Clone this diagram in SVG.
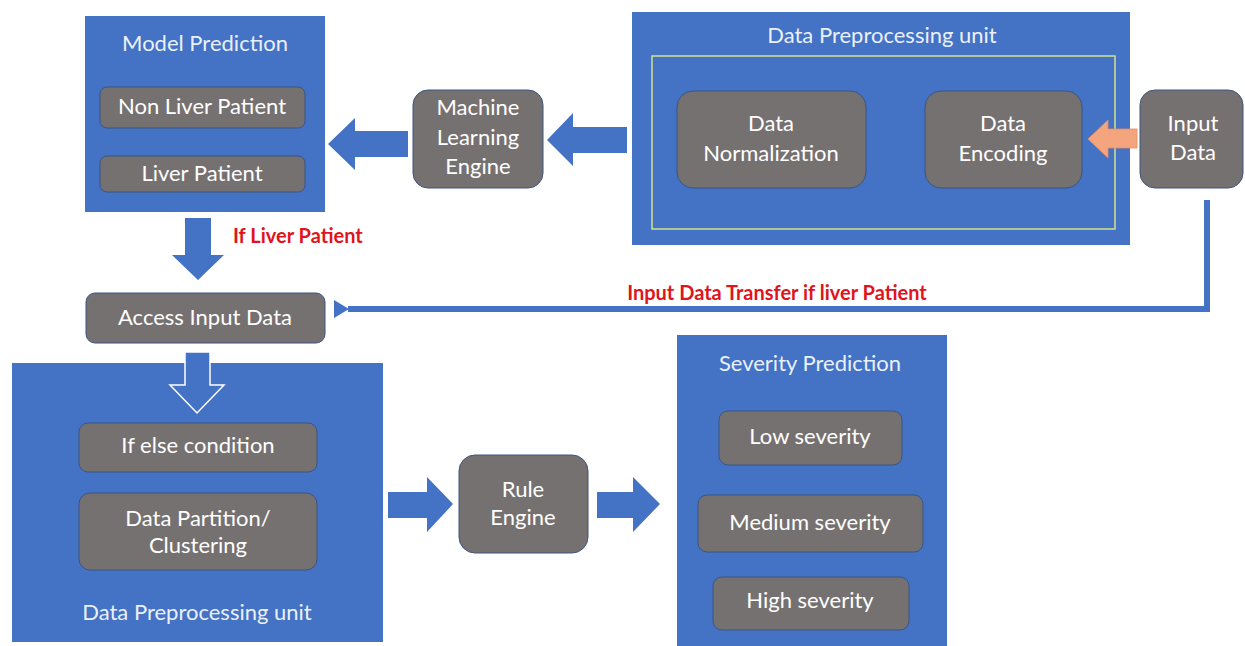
<svg xmlns="http://www.w3.org/2000/svg" width="1245" height="646" viewBox="0 0 1245 646">
<style>
.panel{fill:#4472c4;}
.box{fill:#767171;stroke:#3b5580;stroke-width:1;}
.title{font-family:Lato,"Liberation Sans",sans-serif;font-size:22px;fill:#eaf0fa;text-anchor:middle;}
.lbl{font-family:Lato,"Liberation Sans",sans-serif;font-size:22px;fill:#ffffff;text-anchor:middle;}
.red{font-family:Lato,"Liberation Sans",sans-serif;font-size:20px;font-weight:bold;fill:#e0141c;}
.arrow{fill:#4472c4;}
</style>
<defs>
<marker id="ah" markerUnits="userSpaceOnUse" markerWidth="16" markerHeight="20" refX="2" refY="10" orient="auto">
<path d="M16,1 L1,10 L16,19 Z" fill="#4472c4"/>
</marker>
</defs>

<g id="model-prediction">
<rect class="panel" x="85" y="16" width="240" height="196"/>
<text class="title" x="205" y="51">Model Prediction</text>
<rect class="box" x="100" y="87" width="205" height="41" rx="7"/>
<text class="lbl" x="202" y="114">Non Liver Patient</text>
<rect class="box" x="100" y="156" width="205" height="36" rx="7"/>
<text class="lbl" x="202" y="181">Liver Patient</text>
</g>

<g id="ml-engine">
<rect class="box" x="413" y="90" width="130" height="98" rx="15"/>
<text class="lbl" x="478" y="115">Machine</text>
<text class="lbl" x="478" y="145">Learning</text>
<text class="lbl" x="478" y="174">Engine</text>
</g>

<g id="data-preprocessing-top">
<rect class="panel" x="632" y="12" width="498" height="233"/>
<text class="title" x="882" y="43">Data Preprocessing unit</text>
<rect x="652" y="56" width="463" height="173" fill="none" stroke="#d2e08c" stroke-width="1.5"/>
<g id="data-normalization">
<rect class="box" x="677" y="91" width="189" height="97" rx="16"/>
<text class="lbl" x="771" y="131">Data</text>
<text class="lbl" x="771" y="161">Normalization</text>
</g>
<g id="data-encoding">
<rect class="box" x="925" y="91" width="157" height="97" rx="16"/>
<text class="lbl" x="1003" y="131">Data</text>
<text class="lbl" x="1003" y="161">Encoding</text>
</g>
</g>

<g id="input-data">
<rect class="box" x="1140" y="90" width="103" height="98" rx="15"/>
<text class="lbl" x="1193" y="131">Input</text>
<text class="lbl" x="1193" y="160">Data</text>
</g>

<g id="access-input-data">
<rect class="box" x="86" y="293" width="239" height="50" rx="9"/>
<text class="lbl" x="205" y="325">Access Input Data</text>
</g>

<g id="data-preprocessing-bottom">
<rect class="panel" x="12" y="363" width="371" height="279"/>
<text class="title" x="197" y="620">Data Preprocessing unit</text>
<g id="if-else">
<rect class="box" x="79" y="423" width="238" height="49" rx="9"/>
<text class="lbl" x="198" y="453">If else condition</text>
</g>
<g id="data-partition">
<rect class="box" x="79" y="493" width="238" height="77" rx="11"/>
<text class="lbl" x="198" y="526">Data Partition/</text>
<text class="lbl" x="198" y="553">Clustering</text>
</g>
</g>

<g id="rule-engine">
<rect class="box" x="459" y="455" width="129" height="98" rx="16"/>
<text class="lbl" x="523" y="497">Rule</text>
<text class="lbl" x="523" y="525">Engine</text>
</g>

<g id="severity-prediction">
<rect class="panel" x="677" y="335" width="270" height="311"/>
<text class="title" x="810" y="371">Severity Prediction</text>
<rect class="box" x="719" y="411" width="183" height="54" rx="9"/>
<text class="lbl" x="810" y="444">Low severity</text>
<rect class="box" x="698" y="495" width="225" height="57" rx="9"/>
<text class="lbl" x="810" y="530">Medium severity</text>
<rect class="box" x="713" y="577" width="196" height="53" rx="9"/>
<text class="lbl" x="810" y="608">High severity</text>
</g>

<g id="connectors">
<polygon class="arrow" points="328,144 355,118 355,131 408,131 408,157 355,157 355,170"/>
<polygon class="arrow" points="547,140 573,113 573,127 627,127 627,153 573,153 573,166"/>
<polygon points="1088,139 1108,120 1108,129 1137,129 1137,148 1108,148 1108,158" fill="#f4a57e" stroke="#ed8a5a" stroke-width="0.8"/>
<polygon class="arrow" points="185,218 211,218 211,255 224,255 198,280 172,255 185,255"/>
<polygon points="185,352 210,352 210,385 224,385 197,413 170,385 185,385" fill="#4472c4" stroke="#ffffff" stroke-width="1.5"/>
<polygon class="arrow" points="388,492 427,492 427,477 453,504 427,532 427,518 388,518"/>
<polygon class="arrow" points="597,492 633,492 633,477 660,504 633,532 633,518 597,518"/>
<path d="M1207,200 L1207,309 L348,309" fill="none" stroke="#4472c4" stroke-width="6" marker-end="url(#ah)"/>
<text class="red" x="233" y="243">If Liver Patient</text>
<text class="red" x="777" y="300" text-anchor="middle">Input Data Transfer if liver Patient</text>
</g>
</svg>
